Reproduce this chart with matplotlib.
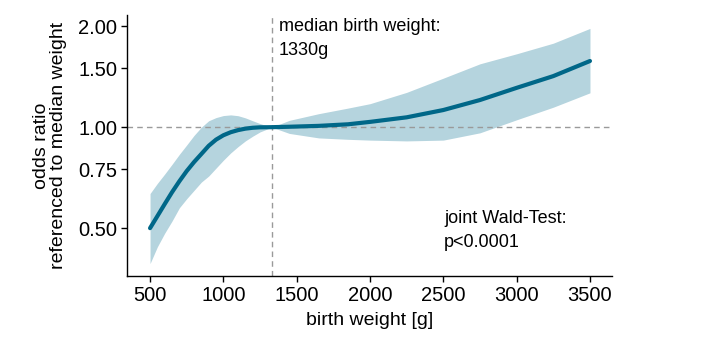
import numpy as np
import matplotlib
matplotlib.use("Agg")
import matplotlib.pyplot as plt
from matplotlib.ticker import FixedLocator, NullLocator

plt.rcParams['font.family'] = ['Liberation Sans', 'DejaVu Sans']

weight = [500, 550, 600, 650, 700, 750, 800, 850, 900, 950, 1000, 1050, 1100, 1150,
          1200, 1250, 1330, 1450, 1650, 1850, 2000, 2250, 2500, 2750, 3000, 3250, 3500]
odds = [0.50, 0.543, 0.590, 0.640, 0.690, 0.740, 0.787, 0.832, 0.880, 0.918, 0.946,
        0.966, 0.980, 0.990, 0.996, 0.999, 1.0, 1.003, 1.009, 1.02, 1.037, 1.07, 1.125,
        1.205, 1.31, 1.42, 1.575]
upper = [0.634, 0.68, 0.725, 0.775, 0.83, 0.885, 0.945, 1.0, 1.045, 1.068, 1.083,
         1.088, 1.082, 1.066, 1.045, 1.025, 1.0, 1.048, 1.097, 1.14, 1.175, 1.27, 1.40,
         1.545, 1.655, 1.78, 1.97]
lower = [0.392, 0.44, 0.483, 0.525, 0.575, 0.612, 0.648, 0.686, 0.715, 0.755, 0.797,
         0.838, 0.875, 0.91, 0.94, 0.968, 1.0, 0.958, 0.929, 0.92, 0.915, 0.91, 0.915,
         0.962, 1.052, 1.147, 1.266]

median_weight = 1330
yticks = [0.50, 0.75, 1.00, 1.50, 2.00]
xticks = [500, 1000, 1500, 2000, 2500, 3000, 3500]

fig = plt.figure(figsize=(7.01, 3.37), dpi=100)
ax = fig.add_axes([0.1812, 0.181, 0.873 - 0.1812, 0.9555 - 0.181])

ax.fill_between(weight, lower, upper, color='#b5d4de', linewidth=0, zorder=1)
ax.axhline(1.0, color='#9a9a9a', linestyle=(0, (4, 3)), linewidth=1.0, zorder=2)
ax.axvline(median_weight, color='#9a9a9a', linestyle=(0, (4, 3)), linewidth=1.0, zorder=2)
ax.plot(weight, odds, color='#006788', linewidth=3, solid_capstyle='round',
        solid_joinstyle='round', zorder=3)

ax.set_yscale('log')
ax.set_xlim(343, 3650)
ax.set_ylim(0.36, 2.16)
ax.yaxis.set_major_locator(FixedLocator(yticks))
ax.yaxis.set_minor_locator(NullLocator())
ax.set_yticklabels([f"{v:.2f}" for v in yticks])
ax.set_xticks(xticks)
ax.set_xticklabels([str(v) for v in xticks])

for s in ['top', 'right']:
    ax.spines[s].set_visible(False)
for s in ['left', 'bottom']:
    ax.spines[s].set_linewidth(1.0)
ax.tick_params(axis='both', labelsize=14.5, length=4, width=1.0, colors='black', pad=3)

ax.set_xlabel('birth weight [g]', fontsize=14, labelpad=5.5)
ax.set_ylabel('odds ratio\nreferenced to median weight', fontsize=14, labelpad=8,
              linespacing=1.05)

ax.text(1380, 2.12, 'median birth weight:\n1330g', fontsize=13, va='top', ha='left',
        linespacing=1.55)
ax.text(2504, 0.567, 'joint Wald-Test:\np<0.0001', fontsize=13, va='top', ha='left',
        linespacing=1.55)

fig.savefig('out.png', dpi=100)
